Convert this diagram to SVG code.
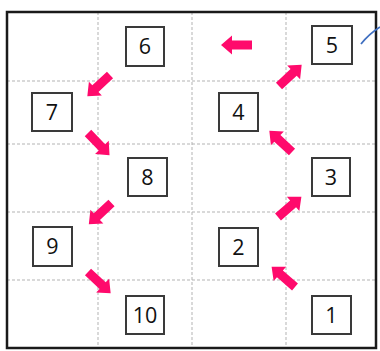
<svg xmlns="http://www.w3.org/2000/svg" width="380" height="351" viewBox="0 0 380 351">
<style>
.grid{stroke:#b3b3b3;stroke-width:1;stroke-dasharray:3 2;fill:none}
.box{fill:#fff;stroke:#3a3a3a;stroke-width:2}
.lbl{font-family:"Open Sans","Liberation Sans",sans-serif;font-size:21.5px;fill:#111;text-anchor:middle}
.arr{fill:#ff0a6c}
</style>
<defs>
<path id="ar" d="M0,-4.5 H20 V-9.5 L31,0 L20,9.5 V4.5 H0 Z"/>
</defs>
<rect x="0" y="0" width="380" height="351" fill="#fff"/>
<g id="grid">
<line class="grid" x1="98" y1="12" x2="98" y2="348"/>
<line class="grid" x1="192" y1="12" x2="192" y2="348"/>
<line class="grid" x1="286" y1="12" x2="286" y2="348"/>
<line class="grid" x1="7" y1="81" x2="376" y2="81"/>
<line class="grid" x1="7" y1="144" x2="376" y2="144"/>
<line class="grid" x1="7" y1="212" x2="376" y2="212"/>
<line class="grid" x1="7" y1="280" x2="376" y2="280"/>
</g>
<rect id="frame" x="7" y="12" width="369" height="336" fill="none" stroke="#1a1a1a" stroke-width="2.5"/>
<g id="connectors" class="arr">
<use href="#ar" transform="translate(252,45) rotate(180)"/>
<use href="#ar" transform="translate(110,75) rotate(137)"/>
<use href="#ar" transform="translate(88,133) rotate(46)"/>
<use href="#ar" transform="translate(111.5,203) rotate(137)"/>
<use href="#ar" transform="translate(88,272) rotate(43)"/>
<use href="#ar" transform="translate(295,287) rotate(-139)"/>
<use href="#ar" transform="translate(278,217) rotate(-41)"/>
<use href="#ar" transform="translate(292,152) rotate(-137)"/>
<use href="#ar" transform="translate(279,86) rotate(-43)"/>
<path d="M361,44 Q369,34 380,27" fill="none" stroke="#3f6fc0" stroke-width="1.8"/>
</g>
<g id="n1"><rect class="box" x="312" y="296" width="39" height="38"/><text class="lbl" x="331.5" y="322.5">1</text></g>
<g id="n2"><rect class="box" x="219" y="228" width="39" height="38"/><text class="lbl" x="238.5" y="254.5">2</text></g>
<g id="n3"><rect class="box" x="312" y="158" width="38" height="38"/><text class="lbl" x="331" y="184.5">3</text></g>
<g id="n4"><rect class="box" x="219" y="93" width="39" height="38"/><text class="lbl" x="238.5" y="119.5">4</text></g>
<g id="n5"><rect class="box" x="312" y="26" width="40" height="38"/><text class="lbl" x="332" y="52.5">5</text></g>
<g id="n6"><rect class="box" x="126" y="27" width="38" height="39"/><text class="lbl" x="145" y="54">6</text></g>
<g id="n7"><rect class="box" x="32" y="93" width="40" height="38"/><text class="lbl" x="52" y="119.5">7</text></g>
<g id="n8"><rect class="box" x="128" y="158" width="39" height="38"/><text class="lbl" x="147.5" y="184.5">8</text></g>
<g id="n9"><rect class="box" x="33" y="227" width="39" height="39"/><text class="lbl" x="52.5" y="254">9</text></g>
<g id="n10"><rect class="box" x="126" y="296" width="38" height="38"/><text class="lbl" x="145" y="322.5">10</text></g>
</svg>
